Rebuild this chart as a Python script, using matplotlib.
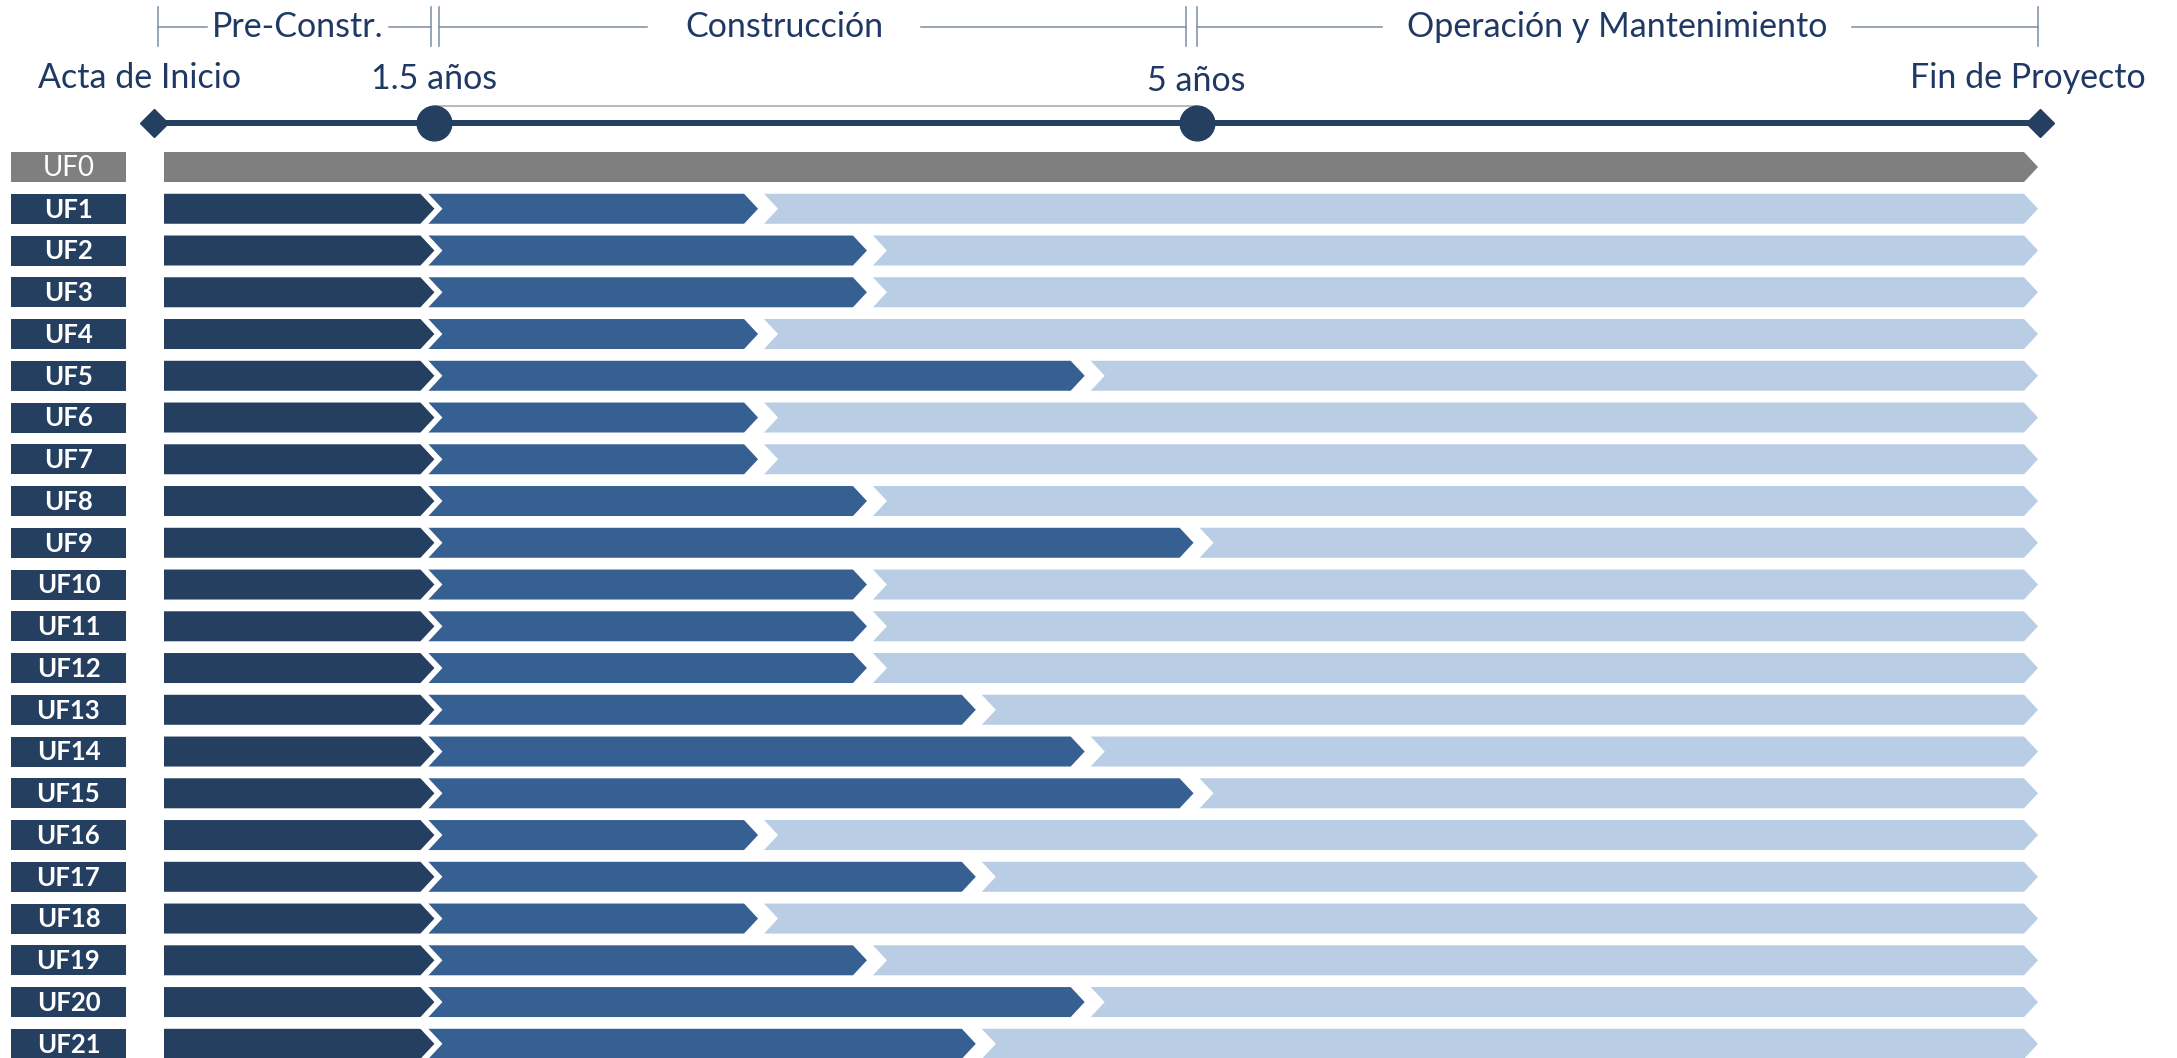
import numpy as np
import matplotlib.pyplot as plt
from matplotlib.patches import Polygon, Rectangle
import matplotlib.transforms as mtransforms

plt.rcParams['font.family'] = ['Lato', 'DejaVu Sans']

# --- data ---
ufs = ['UF0'] + ['UF' + str(i) for i in range(1, 22)]
pre_end = 1.5  # fin pre-construccion (años)
constr_end = [3, 3.5, 3.5, 3, 4.5, 3, 3, 3.5, 5, 3.5, 3.5, 3.5, 4, 4.5, 5, 3, 4, 3, 3.5, 4.5, 4]  # UF1..UF21
project_end = 25  # nominal, eje comprimido
milestones = [0, 1.5, 5, project_end]
milestone_labels = ['Acta de Inicio', '1.5 años', '5 años', 'Fin de Proyecto']
phases = ['Pre-Constr.', 'Construcción', 'Operación y Mantenimiento']

# --- colors ---
c_pre = '#243F60'
c_con = '#376092'
c_om = '#B9CDE5'
c_uf0 = '#7F7F7F'
c_txt = '#1F3864'
c_brk = '#7C8DA3'

# piecewise (compressed) time axis
YR = np.array([0, 1.5, 5, project_end], float)
POS = np.array([0, 0.1443, 0.551, 1.0])

def fwd(x):
	x = np.asarray(x, float)
	y = np.interp(x, YR, POS)
	s0 = (POS[1]-POS[0])/(YR[1]-YR[0]); s1 = (POS[-1]-POS[-2])/(YR[-1]-YR[-2])
	y = np.where(x < YR[0], POS[0] + (x-YR[0])*s0, y)
	y = np.where(x > YR[-1], POS[-1] + (x-YR[-1])*s1, y)
	return y

def inv(y):
	y = np.asarray(y, float)
	x = np.interp(y, POS, YR)
	s0 = (POS[1]-POS[0])/(YR[1]-YR[0]); s1 = (POS[-1]-POS[-2])/(YR[-1]-YR[-2])
	x = np.where(y < POS[0], YR[0] + (y-POS[0])/s0, x)
	x = np.where(y > POS[-1], YR[-1] + (y-POS[-1])/s1, x)
	return x

W, H = 2177, 1058
fig = plt.figure(figsize=(W/100, H/100), dpi=100)
ax = fig.add_axes([164/W, 0, 1874/W, 1])
ax.set_xscale('function', functions=(fwd, inv))
ax.set_xlim(0, project_end)
ax.set_ylim(21.34, -4.0)
ax.axis('off')

tinv = ax.transData.inverted()
def xp(x):
	return ax.transData.transform((x, 0))[0]
def yp(r):
	return ax.transData.transform((0, r))[1]
def to_data(pts):
	return tinv.transform(np.array(pts, float))

d = 14      # chevron depth (px)
hh = 15     # half bar height (px)

def chevron(xl, xr, row, color, notch=True, tip=True, **kw):
	yc = yp(row)
	pts = [(xl, yc+hh)]
	if tip:
		pts += [(xr-d, yc+hh), (xr, yc), (xr-d, yc-hh)]
	else:
		pts += [(xr, yc+hh), (xr, yc-hh)]
	pts += [(xl, yc-hh)]
	if notch:
		pts += [(xl+d, yc)]
	ax.add_patch(Polygon(to_data(pts), closed=True, facecolor=color, edgecolor='none', clip_on=False, **kw))

# --- rows ---
lbl_tr = mtransforms.blended_transform_factory(ax.transAxes, ax.transData)
for i, uf in enumerate(ufs):
	bh = 2*hh/41.76
	col = c_uf0 if i == 0 else c_pre
	ax.add_patch(Rectangle((-153/1874, i-bh/2), 115/1874, bh, transform=lbl_tr,
		facecolor=col, edgecolor='none', clip_on=False))
	ax.text(-95.5/1874, i+0.02, uf, transform=lbl_tr, ha='center', va='center', color='white',
		fontsize=20 if i == 0 else 18.5, fontweight='normal' if i == 0 else 'bold')
	if i == 0:
		chevron(xp(0), xp(project_end), i, c_uf0, notch=False)
		continue
	xb = xp(pre_end); xc = xp(constr_end[i-1])
	chevron(xp(0), xb, i, c_pre, notch=False)
	chevron(xb-6, xc-3, i, c_con)
	chevron(xc+3, xp(project_end), i, c_om)

# --- timeline ---
t_row = -1.05
ax.plot([0, project_end], [t_row, t_row], color=c_pre, lw=4.3, solid_capstyle='butt', clip_on=False, zorder=3)
ax.plot([1.5, 5], [-1.46, -1.46], color='#A6A6A6', lw=1.1, clip_on=False, zorder=2)
def shifted(dx):
	return ax.transData + mtransforms.ScaledTranslation(dx/fig.dpi, 0, fig.dpi_scale_trans)
ax.plot([0], [t_row], marker='D', ms=14.5, color=c_pre, transform=shifted(-10), clip_on=False, zorder=4)
ax.plot([project_end], [t_row], marker='D', ms=14.5, color=c_pre, transform=shifted(2), clip_on=False, zorder=4)
ax.plot(milestones[1:3], [t_row]*2, 'o', ms=25, color=c_pre, clip_on=False, zorder=4)

lbl_dx = [-25, 0, 0, -10]
lbl_row = [-2.12, -2.1, -2.07, -2.12]
for m, lab, dx, r in zip(milestones, milestone_labels, lbl_dx, lbl_row):
	ax.text(m, r, lab, transform=shifted(dx), ha='center', va='center', fontsize=24.5, color=c_txt)

# --- phase brackets ---
h_row = -3.35
tick_top = yp(-3.84); tick_bot = yp(-2.90)
brk = [(xp(0)-6, xp(1.5)-3), (xp(1.5)+5, xp(5)-11), (xp(5), xp(project_end))]
txt_dx = [3, -28, 0]
gap_hw = [91, 137, 235]
yh = yp(h_row)
for (L, R), ph, dx, hw in zip(brk, phases, txt_dx, gap_hw):
	cx = (L+R)/2 + dx
	for seg in [[(L, yh), (cx-hw, yh)], [(cx+hw, yh), (R, yh)]]:
		p = to_data(seg)
		ax.plot(p[:, 0], p[:, 1], color=c_brk, lw=1.1, clip_on=False)
	for x in (L, R):
		p = to_data([(x, tick_top), (x, tick_bot)])
		ax.plot(p[:, 0], p[:, 1], color=c_brk, lw=1.1, clip_on=False)
	c = to_data([(cx, yh)])[0]
	ax.text(c[0], c[1], ph, ha='center', va='center', fontsize=24.5, color=c_txt)

plt.savefig('out.png', dpi=100)
